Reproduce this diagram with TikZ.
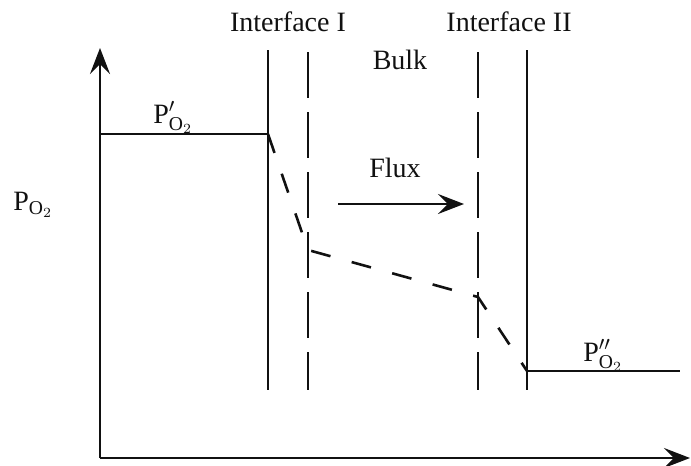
\documentclass[tikz,border=0pt]{standalone}
\usepackage{fontspec}
\setmainfont{Liberation Serif}
\usetikzlibrary{arrows.meta,positioning}
\definecolor{inkblack}{HTML}{111111}

\begin{document}
\begin{tikzpicture}[x=0.5pt,y=-0.5pt, inkblack, font=\fontsize{14}{16}\selectfont]
    \useasboundingbox (0,0) rectangle (691,466);
    \tikzset{
        axisline/.style={line width=1.3pt, -{Stealth[length=13pt,width=10pt,inset=5pt]}},
        wallline/.style={line width=1.3pt},
        layerline/.style={line width=1.3pt, dash pattern=on 23pt off 7pt},
        profile/.style={line width=1.3pt, dash pattern=on 10pt off 11pt},
        lbl/.style={inner sep=0pt}
    }

    % axes
    \coordinate (origin) at (100,458);
    \coordinate (ytop) at (100,48);
    \coordinate (xend) at (690,458);
    \draw[axisline] (origin) -- (ytop);
    \draw[axisline] (origin) -- (xend);

    % interfaces and boundary layers
    \draw[wallline] (268,50) -- (268,390);
    \draw[layerline] (308,52) -- (308,390);
    \draw[layerline] (478,52) -- (478,390);
    \draw[wallline] (527,50) -- (527,390);

    % pressure levels
    \coordinate (pleft) at (268,134);
    \coordinate (pright) at (527,371);
    \draw[wallline] (100,134) -- (pleft);
    \draw[wallline] (pright) -- (680,371);

    % pressure profile
    \coordinate (kinkI) at (308,250);
    \coordinate (kinkII) at (478,297);
    \draw[profile] (pleft) -- (kinkI) -- (kinkII) -- (pright);

    % labels
    \node[lbl] (ifI) at (288,22) {Interface I};
    \node[lbl] (ifII) at (509,22) {Interface II};
    \node[lbl] (bulk) at (400,60) {Bulk};
    \node[lbl] (flux) at (395,168) {Flux};
    \coordinate (fluxstart) at (338,204);
    \coordinate (fluxend) at (464,204);
    \draw[axisline] (fluxstart) -- (fluxend);

    \node[lbl, anchor=base west] (phigh) at (153,123) {P$^{\prime}_{\mathrm{O}_2}$};
    \node[lbl, anchor=base west] (plow) at (583,361) {P$^{\prime\prime}_{\mathrm{O}_2}$};
    \node[lbl, anchor=base west] (paxis) at (13,210) {P$_{\mathrm{O}_2}$};
\end{tikzpicture}
\end{document}
